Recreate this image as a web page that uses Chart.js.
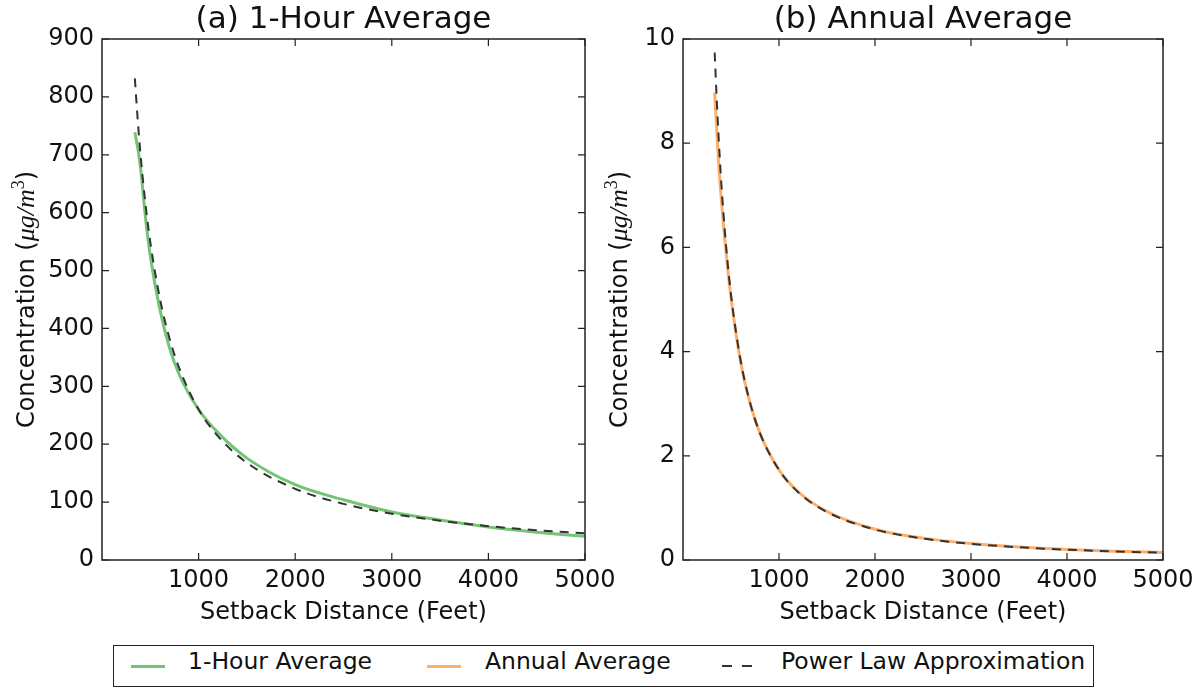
<!DOCTYPE html>
<html>
<head>
<meta charset="utf-8">
<script src="https://cdn.jsdelivr.net/npm/chart.js@4.4.1/dist/chart.umd.min.js"></script>
<style>
  body { margin: 0; background: #fff; width: 1200px; height: 688px; overflow: hidden; position: relative; font-family: "DejaVu Sans"; color: #111; }
  canvas { position: absolute; top: 0; }
  #hourChart { left: 0; }
  #annualChart { left: 590px; }
  .legend { position: absolute; left: 113px; top: 645px; width: 979px; height: 40px; border: 1.5px solid #222; }
  .key { position: absolute; top: 665px; width: 34px; height: 3px; }
  .label { position: absolute; top: 650px; font-size: 23.5px; line-height: 23px; white-space: nowrap; }
</style>
</head>
<body>
<canvas id="hourChart" width="640" height="640"></canvas>
<canvas id="annualChart" width="610" height="640"></canvas>

<div class="legend"></div>
<div class="key" style="left:131px;background:#74c476"></div>
<div class="label" style="left:188px">1-Hour Average</div>
<div class="key" style="left:427px;background:#fdae6b"></div>
<div class="label" style="left:485px">Annual Average</div>
<div class="key" style="left:722px;height:2px;background:repeating-linear-gradient(to right,#333 0 10px,transparent 10px 20px)"></div>
<div class="label" style="left:781px">Power Law Approximation</div>

<script>
// setback distance (feet) and concentrations (ug/m3)
const hourDistance = [340, 370, 400, 450, 500, 600, 700, 800, 1000, 1200, 1500, 2000, 2500, 3000, 3500, 4000, 4500, 5000];
const hourly = [739, 712, 676, 592, 525, 432, 366, 320, 260, 220, 176, 130, 104, 83, 69, 57, 48, 41];
const hourlyFit = [832, 760, 698, 615, 549, 451, 382, 331, 260, 214, 168, 123, 97, 80, 68, 58.5, 51.5, 46];

const annualDistance = [330, 350, 370, 400, 450, 500, 600, 700, 800, 1000, 1200, 1500, 2000, 2500, 3000, 3500, 4000, 4500, 5000];
const annual = [8.97, 8.30, 7.66, 6.90, 5.88, 5.04, 3.81, 3.00, 2.44, 1.73, 1.31, 0.93, 0.59, 0.42, 0.315, 0.248, 0.202, 0.17, 0.145];
const annualFit = [9.74, 8.89, 8.15, 7.21, 6.00, 5.09, 3.83, 3.01, 2.44, 1.73, 1.30, 0.92, 0.585, 0.413, 0.311, 0.244, 0.198, 0.165, 0.14];

const xTicks = [1000, 2000, 3000, 4000, 5000];

Chart.defaults.font.family = 'DejaVu Sans';
Chart.defaults.color = '#111';

const pairs = (xs, ys) => xs.map((x, i) => ({x: x, y: ys[i]}));

// box around the plot, inward ticks on all four sides, and the y label with the units part
const framePlugin = {
  id: 'frame',
  afterDatasetsDraw(chart, args, opts) {
    const {ctx, chartArea: a, scales: {x, y}} = chart;
    const tick = 7;
    ctx.save();
    ctx.strokeStyle = '#222';
    ctx.lineWidth = 1.2;
    ctx.beginPath();
    x.ticks.forEach(t => {
      const px = x.getPixelForValue(t.value);
      ctx.moveTo(px, a.bottom); ctx.lineTo(px, a.bottom - tick);
      ctx.moveTo(px, a.top); ctx.lineTo(px, a.top + tick);
    });
    y.ticks.forEach(t => {
      const py = y.getPixelForValue(t.value);
      ctx.moveTo(a.left, py); ctx.lineTo(a.left + tick, py);
      ctx.moveTo(a.right, py); ctx.lineTo(a.right - tick, py);
    });
    ctx.stroke();
    ctx.lineWidth = 1.5;
    ctx.strokeRect(a.left, a.top, a.right - a.left, a.bottom - a.top);

    const parts = [
      {text: 'Concentration (', font: '24px "DejaVu Sans"', dy: 0},
      {text: 'μg/m', font: 'italic 26px "Liberation Serif"', dy: 0},
      {text: '3', font: '18px "Liberation Serif"', dy: -10},
      {text: ')', font: '24px "DejaVu Sans"', dy: 0}
    ];
    let total = 0;
    parts.forEach(p => { ctx.font = p.font; p.w = ctx.measureText(p.text).width; total += p.w; });
    ctx.translate(opts.titleX, (a.top + a.bottom) / 2);
    ctx.rotate(-Math.PI / 2);
    ctx.fillStyle = '#111';
    ctx.textBaseline = 'alphabetic';
    let cx = -total / 2;
    parts.forEach(p => { ctx.font = p.font; ctx.fillText(p.text, cx, p.dy); cx += p.w; });
    ctx.restore();
  }
};

function panel(id, cfg) {
  return new Chart(document.getElementById(id), {
    type: 'line',
    data: {
      datasets: [
        {
          label: 'Power Law Approximation',
          data: pairs(cfg.distance, cfg.fit),
          borderColor: '#333',
          borderWidth: 2,
          borderDash: [9, 7]
        },
        {
          label: cfg.label,
          data: pairs(cfg.distance, cfg.values),
          borderColor: cfg.color,
          borderWidth: 3
        }
      ]
    },
    options: {
      responsive: false,
      animation: false,
      devicePixelRatio: 1,
      layout: {padding: {left: 0, right: cfg.padRight, top: 0, bottom: 0}},
      elements: {
        point: {radius: 0},
        line: {cubicInterpolationMode: 'monotone', fill: false}
      },
      plugins: {
        legend: {display: false},
        tooltip: {enabled: false},
        title: {
          display: true,
          text: cfg.title,
          fullSize: false,
          color: '#111',
          font: {size: 31, weight: 'normal', lineHeight: '36px'},
          padding: {top: 1.8, bottom: 1.2}
        },
        frame: {titleX: cfg.titleX}
      },
      scales: {
        x: {
          type: 'linear',
          min: 0,
          max: 5000,
          afterBuildTicks: s => { s.ticks = xTicks.map(v => ({value: v})); },
          afterFit: s => { s.height = 80; },
          grid: {display: false, drawTicks: false},
          border: {display: false},
          ticks: {font: {size: 24}, padding: 6, maxRotation: 0, callback: v => String(v)},
          title: {display: true, text: 'Setback Distance (Feet)', font: {size: 24}, padding: {top: 0, bottom: 13}}
        },
        y: {
          min: 0,
          max: cfg.yMax,
          afterFit: s => { s.width = cfg.left; },
          grid: {display: false, drawTicks: false},
          border: {display: false},
          ticks: {font: {size: 24}, padding: 8, stepSize: cfg.yStep}
        }
      }
    },
    plugins: [framePlugin]
  });
}

panel('hourChart', {
  title: '(a) 1-Hour Average',
  label: '1-Hour Average',
  distance: hourDistance,
  values: hourly,
  fit: hourlyFit,
  color: '#74c476',
  yMax: 900,
  yStep: 100,
  left: 102,
  padRight: 55,
  titleX: 34
});

panel('annualChart', {
  title: '(b) Annual Average',
  label: 'Annual Average',
  distance: annualDistance,
  values: annual,
  fit: annualFit,
  color: '#fdae6b',
  yMax: 10,
  yStep: 2,
  left: 93,
  padRight: 37,
  titleX: 37
});
</script>
</body>
</html>
